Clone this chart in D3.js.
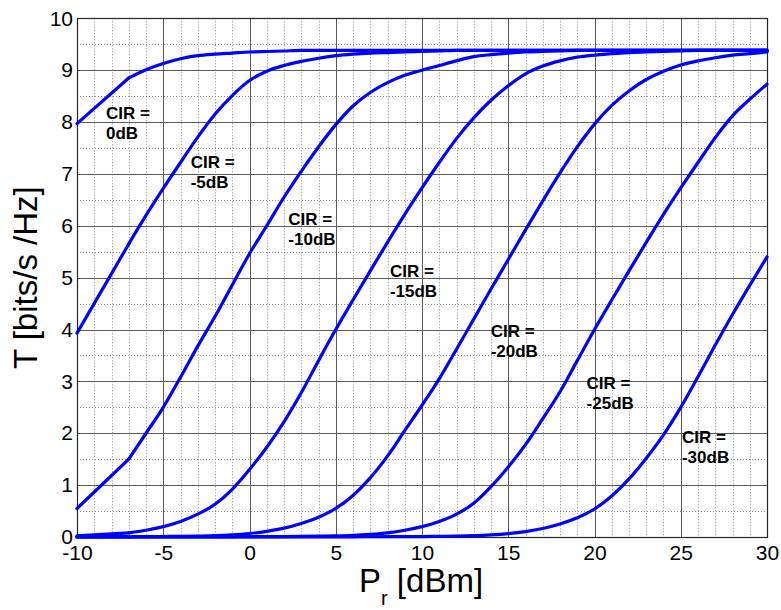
<!DOCTYPE html>
<html>
<head>
<meta charset="utf-8">
<script src="https://cdn.jsdelivr.net/npm/d3@7"></script>
<style>
  html, body { margin: 0; padding: 0; background: #fff; }
  svg { display: block; font-family: "Liberation Sans", Arial, sans-serif; }
</style>
</head>
<body>
<svg id="chart" width="781" height="610"></svg>
<script>
// Received power grid [dBm]
const pr = [-10, -7, -6, -5, -4, -3, -2, -1, 0, 1, 2, 3, 4, 5, 6, 7, 8, 9, 10,
  11, 12, 13, 14, 15, 16, 17, 18, 19, 20, 21, 22, 23, 24, 25, 26, 27, 28, 29, 30];

// Throughput T [bits/s/Hz] for each carrier-to-interference ratio
const cir0 = [7.97, 8.85, 9.01, 9.13, 9.22, 9.28, 9.31, 9.33, 9.35, 9.36, 9.37,
  9.38, 9.38, 9.38, 9.38, 9.38, 9.38, 9.38, 9.38, 9.38, 9.38, 9.38, 9.38, 9.38,
  9.38, 9.38, 9.38, 9.38, 9.38, 9.38, 9.38, 9.38, 9.38, 9.38, 9.38, 9.38, 9.38, 9.38, 9.38];
const cirM5 = [3.93, 5.65, 6.20, 6.72, 7.22, 7.71, 8.15, 8.51, 8.80, 8.98, 9.09,
  9.17, 9.23, 9.28, 9.31, 9.33, 9.34, 9.35, 9.36, 9.37, 9.38, 9.38, 9.38, 9.38,
  9.38, 9.38, 9.38, 9.38, 9.38, 9.38, 9.38, 9.38, 9.38, 9.38, 9.38, 9.38, 9.38, 9.38, 9.38];
const cirM10 = [0.55, 1.50, 2.00, 2.50, 3.08, 3.68, 4.25, 4.86, 5.46, 6.00, 6.55,
  7.05, 7.52, 7.95, 8.31, 8.57, 8.76, 8.90, 9.00, 9.09, 9.18, 9.26, 9.30, 9.33,
  9.35, 9.36, 9.37, 9.38, 9.38, 9.38, 9.38, 9.38, 9.38, 9.38, 9.38, 9.38, 9.38, 9.38, 9.38];
const cirM15 = [0.02, 0.08, 0.13, 0.20, 0.30, 0.44, 0.63, 0.92, 1.30, 1.73, 2.22,
  2.78, 3.40, 4.00, 4.57, 5.13, 5.68, 6.22, 6.73, 7.22, 7.68, 8.08, 8.42, 8.70,
  8.93, 9.08, 9.18, 9.25, 9.29, 9.32, 9.34, 9.35, 9.36, 9.37, 9.38, 9.38, 9.38, 9.38, 9.38];
const cirM20 = [0.004, 0.006, 0.007, 0.010, 0.013, 0.018, 0.026, 0.042, 0.068, 0.11, 0.17,
  0.26, 0.38, 0.55, 0.80, 1.14, 1.56, 2.05, 2.54, 3.05, 3.62, 4.20, 4.78, 5.35,
  5.92, 6.48, 7.02, 7.52, 7.96, 8.32, 8.60, 8.82, 8.98, 9.10, 9.18, 9.24, 9.29, 9.32, 9.35];
const cirM25 = [0.002, 0.002, 0.002, 0.003, 0.003, 0.003, 0.004, 0.004, 0.005, 0.006, 0.008,
  0.011, 0.015, 0.02, 0.03, 0.05, 0.08, 0.13, 0.20, 0.30, 0.44, 0.65, 0.97, 1.35,
  1.78, 2.28, 2.80, 3.40, 4.00, 4.57, 5.13, 5.68, 6.22, 6.73, 7.22, 7.70, 8.12, 8.44, 8.73];
const cirM30 = [0.002, 0.002, 0.002, 0.002, 0.002, 0.002, 0.002, 0.002, 0.002, 0.002, 0.002,
  0.002, 0.002, 0.002, 0.004, 0.005, 0.006, 0.007, 0.009, 0.013, 0.017, 0.025, 0.04, 0.065,
  0.105, 0.165, 0.25, 0.37, 0.54, 0.79, 1.12, 1.52, 1.97, 2.50, 3.09, 3.70, 4.29, 4.85, 5.40];

const seriesList = [cir0, cirM5, cirM10, cirM15, cirM20, cirM25, cirM30];

// Curve annotations (second line of each label) and their anchors in data units
const labelNames = ["0dB", "-5dB", "-10dB", "-15dB", "-20dB", "-25dB", "-30dB"];
const labelPr = [-8.32, -3.41, 2.25, 8.14, 13.98, 19.54, 25.07];
const labelT = [8.05, 7.12, 6.01, 5.02, 3.85, 2.85, 1.82];

// Tick values
const xTicks = [-10, -5, 0, 5, 10, 15, 20, 25, 30];
const yTicks = [0, 1, 2, 3, 4, 5, 6, 7, 8, 9, 10];

const svg = d3.select("#chart");
const plotLeft = 77, plotRight = 767, plotTop = 18.3, plotBottom = 537;

const x = d3.scaleLinear().domain([-10, 30]).range([plotLeft, plotRight]);
const y = d3.scaleLinear().domain([0, 10]).range([plotBottom, plotTop]);

// Minor grid (dotted)
const xMinor = d3.range(-10, 31, 1).filter(v => v % 5 !== 0);
const yMinor = d3.range(0.5, 10, 1);
const gMinor = svg.append("g")
  .attr("stroke", "#8c8c8c").attr("stroke-width", 1).attr("stroke-dasharray", "1,2");
gMinor.selectAll("line.vx").data(xMinor).join("line")
  .attr("x1", d => Math.round(x(d)) + 0.5).attr("x2", d => Math.round(x(d)) + 0.5)
  .attr("y1", plotTop).attr("y2", plotBottom);
gMinor.selectAll("line.hy").data(yMinor).join("line")
  .attr("y1", d => Math.round(y(d)) + 0.5).attr("y2", d => Math.round(y(d)) + 0.5)
  .attr("x1", plotLeft).attr("x2", plotRight);

// Major grid (solid)
const gMajor = svg.append("g").attr("stroke", "#5a5a5a").attr("stroke-width", 1);
gMajor.selectAll("line.v").data(xTicks).join("line")
  .attr("x1", d => Math.round(x(d)) + 0.5).attr("x2", d => Math.round(x(d)) + 0.5)
  .attr("y1", plotTop).attr("y2", plotBottom);
gMajor.selectAll("line.h").data(yTicks).join("line")
  .attr("y1", d => Math.round(y(d)) + 0.5).attr("y2", d => Math.round(y(d)) + 0.5)
  .attr("x1", plotLeft).attr("x2", plotRight);

// Frame
svg.append("rect")
  .attr("x", plotLeft + 0.5).attr("y", Math.round(plotTop) + 0.5)
  .attr("width", plotRight - plotLeft).attr("height", Math.round(plotBottom) - Math.round(plotTop))
  .attr("fill", "none").attr("stroke", "#262626").attr("stroke-width", 1.2);

// Throughput curves: a straight first step (-10 to -7 dBm), smooth afterwards
const straight = d3.line()
  .x(d => x(d[0])).y(d => y(d[1]))
  .curve(d3.curveLinear);
const smooth = d3.line()
  .x(d => x(d[0])).y(d => y(d[1]))
  .curve(d3.curveMonotoneX);
const gCurves = svg.append("g")
  .attr("fill", "none")
  .attr("stroke", "#0000ff")
  .attr("stroke-width", 3.2)
  .attr("stroke-linejoin", "round")
  .attr("stroke-linecap", "round");
seriesList.forEach(vals => {
  const pts = vals.map((v, i) => [pr[i], v]);
  gCurves.append("path").attr("d", straight(pts.slice(0, 2)));
  gCurves.append("path").attr("d", smooth(pts.slice(1)));
});

// Axes tick labels
const fmt = d => String(d);
const xAxis = d3.axisBottom(x).tickValues(xTicks).tickSize(0).tickPadding(8)
  .tickFormat(fmt);
const gx = svg.append("g").attr("transform", `translate(0,${plotBottom})`).call(xAxis);
gx.select(".domain").remove();
gx.selectAll("text").attr("font-size", 21).attr("fill", "#000")
  .attr("font-family", "Liberation Sans, Arial, sans-serif");

const yAxis = d3.axisLeft(y).tickValues(yTicks).tickSize(0).tickPadding(4)
  .tickFormat(fmt);
const gy = svg.append("g").attr("transform", `translate(${plotLeft},0)`).call(yAxis);
gy.select(".domain").remove();
gy.selectAll("text").attr("font-size", 21).attr("fill", "#000")
  .attr("font-family", "Liberation Sans, Arial, sans-serif");

// Curve labels
const gLab = svg.append("g")
  .attr("font-weight", "bold").attr("font-size", 17).attr("fill", "#000");
labelNames.forEach((name, i) => {
  const t = gLab.append("text")
    .attr("x", x(labelPr[i])).attr("y", y(labelT[i]));
  t.append("tspan").text("CIR =");
  t.append("tspan").attr("x", x(labelPr[i])).attr("dy", 20).text(name);
});

// Axis titles
const xt = svg.append("text")
  .attr("x", 359).attr("y", 592)
  .attr("font-size", 33).attr("fill", "#000");
xt.append("tspan").text("P");
xt.append("tspan").attr("font-size", 20).attr("dy", 13).text("r");
xt.append("tspan").attr("dy", -13).text(" [dBm]");

svg.append("text")
  .attr("transform", `translate(37,${(plotTop + plotBottom) / 2}) rotate(-90)`)
  .attr("text-anchor", "middle")
  .attr("font-size", 33).attr("fill", "#000")
  .text("T [bits/s /Hz]");
</script>
</body>
</html>
